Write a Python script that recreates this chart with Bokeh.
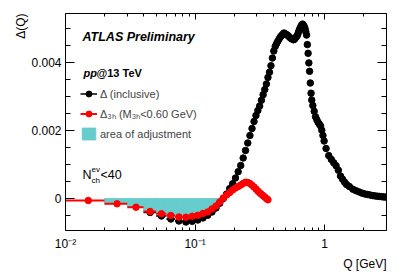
import math
from bokeh.plotting import figure
from bokeh.models import (FixedTicker, LogAxis, LinearAxis, Label, Legend,
                          LegendItem, ColumnDataSource, Range1d, Title)
from bokeh.embed import file_html
from bokeh.resources import INLINE

# ---------------- data ----------------
q_incl = [0.045, 0.055, 0.065, 0.075, 0.085, 0.095, 0.105, 0.115, 0.125, 0.135,
          0.145, 0.155, 0.165, 0.175, 0.185, 0.195, 0.205, 0.215, 0.225, 0.235,
          0.245, 0.255, 0.265, 0.275, 0.285, 0.295, 0.305, 0.315, 0.325, 0.335,
          0.345, 0.355, 0.365, 0.375, 0.385, 0.395, 0.405, 0.415, 0.425, 0.435,
          0.445, 0.455, 0.465, 0.475, 0.485, 0.495, 0.505, 0.515, 0.525, 0.535,
          0.545, 0.555, 0.565, 0.575, 0.585, 0.595, 0.605, 0.615, 0.625, 0.635,
          0.645, 0.655, 0.665, 0.675, 0.685, 0.695, 0.705, 0.715, 0.725, 0.735,
          0.745, 0.755, 0.765, 0.775, 0.785, 0.795, 0.81, 0.83, 0.85, 0.87,
          0.89, 0.91, 0.93, 0.95, 0.97, 0.99, 1.025, 1.075, 1.125, 1.175,
          1.225, 1.275, 1.325, 1.375, 1.425, 1.475, 1.55, 1.65, 1.75, 1.85,
          1.95, 2.05, 2.15, 2.25, 2.35, 2.45, 2.55, 2.65, 2.75, 2.85, 2.95]
delta_incl = [-0.000412, -0.000515, -0.000603, -0.000662, -0.000691, -0.000671, -0.000632, -0.000571, -0.000494, -0.000397,
              -0.000279, -0.000138, 0.000000, 0.000132, 0.000291, 0.000435, 0.000603, 0.000788, 0.000971, 0.001191,
              0.001412, 0.001632, 0.001853, 0.002059, 0.002265, 0.002441, 0.002588, 0.002720, 0.002891, 0.003053,
              0.003203, 0.003367, 0.003559, 0.003714, 0.003906, 0.004132, 0.004338, 0.004470, 0.004553, 0.004623,
              0.004688, 0.004750, 0.004794, 0.004829, 0.004867, 0.004847, 0.004826, 0.004808, 0.004776, 0.004750,
              0.004717, 0.004700, 0.004685, 0.004667, 0.004685, 0.004720, 0.004756, 0.004794, 0.004870, 0.004947,
              0.005008, 0.005056, 0.005106, 0.005129, 0.005094, 0.005059, 0.005003, 0.004903, 0.004806, 0.004526,
              0.004270, 0.003988, 0.003741, 0.003397, 0.003097, 0.002897, 0.002735, 0.002565, 0.002403, 0.002315,
              0.002238, 0.002185, 0.002135, 0.002009, 0.001853, 0.001691, 0.001471, 0.001262, 0.001150, 0.001050,
              0.000962, 0.000832, 0.000662, 0.000565, 0.000479, 0.000412, 0.000353, 0.000274, 0.000226, 0.000191,
              0.000156, 0.000132, 0.000118, 0.000100, 0.000085, 0.000076, 0.000068, 0.000062, 0.000053, 0.000047, 0.000041]

q_3h = [0.015, 0.025, 0.035, 0.045, 0.055, 0.065, 0.075, 0.085, 0.095, 0.105,
        0.115, 0.125, 0.135, 0.145, 0.155, 0.165, 0.175, 0.185, 0.195, 0.205,
        0.215, 0.225, 0.235, 0.245, 0.255, 0.265, 0.275, 0.285, 0.295, 0.305,
        0.315, 0.325, 0.335, 0.345, 0.355, 0.365]
delta_3h = [-0.000059, -0.000156, -0.000256, -0.000382, -0.000450, -0.000500, -0.000544, -0.000550, -0.000523, -0.000494,
            -0.000441, -0.000397, -0.000309, -0.000221, -0.000103, 0.000015, 0.000103, 0.000176, 0.000250, 0.000309,
            0.000353, 0.000397, 0.000441, 0.000479, 0.000471, 0.000441, 0.000391, 0.000338, 0.000279, 0.000221,
            0.000168, 0.000124, 0.000082, 0.000044, 0.000000, -0.000038]
bin_half_width = 0.005
adj_first, adj_last = 1, 14   # bins of delta_3h forming the area of adjustment

x_major_ticks = [0.01, 0.1, 1.0]
x_tick_labels = ["10\u207b\u00b2", "10\u207b\u00b9", "1"]
x_minor_ticks = [0.02, 0.03, 0.04, 0.05, 0.06, 0.07, 0.08, 0.09,
                 0.2, 0.3, 0.4, 0.5, 0.6, 0.7, 0.8, 0.9, 2.0, 3.0]
y_major_ticks = [0.0, 0.002, 0.004]
y_tick_labels = ["0", "0.002", "0.004"]
y_minor_ticks = [-0.0005, 0.0005, 0.001, 0.0015, 0.0025, 0.003, 0.0035, 0.0045, 0.005]

# ---------------- figure ----------------
FONT = "Liberation Sans"
CYAN = "#66cccc"
p = figure(width=399, height=276, x_axis_type="log",
           x_range=Range1d(0.01, 3.0), y_range=Range1d(-0.000941, 0.005441),
           output_backend="svg", toolbar_location=None,
           min_border_left=65, min_border_right=13, min_border_top=13, min_border_bottom=46,
           background_fill_color="white", border_fill_color="white",
           outline_line_color=None)
p.xgrid.visible = False
p.ygrid.visible = False

xt = FixedTicker(ticks=x_major_ticks, minor_ticks=x_minor_ticks)
yt = FixedTicker(ticks=y_major_ticks, minor_ticks=y_minor_ticks)

def style_axis(ax, major, minor, show_labels):
    ax.major_tick_in = major
    ax.major_tick_out = 0
    ax.minor_tick_in = minor
    ax.minor_tick_out = 0
    ax.axis_line_color = "black"
    ax.major_tick_line_color = "black"
    ax.minor_tick_line_color = "black"
    ax.axis_line_width = 1
    if show_labels:
        ax.major_label_text_font = FONT
        ax.major_label_text_font_size = "12px"
        ax.major_label_text_color = "black"
    else:
        ax.major_label_text_font_size = "1px"
        ax.major_label_text_alpha = 0
        ax.major_label_standoff = 0

xa = p.xaxis[0]
xa.ticker = xt
xa.major_label_overrides = dict(zip(x_major_ticks, x_tick_labels))
xa.major_label_standoff = 6
style_axis(xa, 6, 3, True)

ya = p.yaxis[0]
ya.ticker = yt
ya.major_label_overrides = dict(zip(y_major_ticks, y_tick_labels))
ya.major_label_standoff = 4
style_axis(ya, 9, 5, True)

top = LogAxis(ticker=xt)
style_axis(top, 6, 3, False)
p.add_layout(top, "above")
right = LinearAxis(ticker=yt)
style_axis(right, 9, 5, False)
p.add_layout(right, "right")

# axis titles (outside the frame)
p.add_layout(Title(text="\u0394(Q)", align="right", text_font=FONT, text_font_size="12px",
                   text_font_style="normal", standoff=2, text_color="black"), "left")
p.add_layout(Title(text="Q [GeV]", align="right", text_font=FONT, text_font_size="12px",
                   text_font_style="normal", standoff=2, text_color="black"), "below")

# ---------------- glyphs ----------------
adj_q = q_3h[adj_first:adj_last + 1]
adj_v = delta_3h[adj_first:adj_last + 1]
adj_src = ColumnDataSource(dict(left=[q - bin_half_width for q in adj_q],
                                right=[q + bin_half_width for q in adj_q],
                                top=[0.0] * len(adj_q), bottom=adj_v))
r_area = p.quad(left="left", right="right", top="top", bottom="bottom", source=adj_src,
                fill_color=CYAN, line_color=CYAN, line_width=0.8)

inc_src = ColumnDataSource(dict(q=q_incl, v=delta_incl,
                                lo=[q - bin_half_width for q in q_incl],
                                hi=[q + bin_half_width for q in q_incl]))
r_inc_err = p.segment(x0="lo", y0="v", x1="hi", y1="v", source=inc_src,
                      line_color="black", line_width=1.5)
r_inc = p.scatter("q", "v", source=inc_src, size=6.5, fill_color="black", line_color="black")

h3_src = ColumnDataSource(dict(q=q_3h, v=delta_3h,
                               lo=[q - bin_half_width for q in q_3h],
                               hi=[q + bin_half_width for q in q_3h]))
r_3h_err = p.segment(x0="lo", y0="v", x1="hi", y1="v", source=h3_src,
                     line_color="red", line_width=2)
r_3h = p.scatter("q", "v", source=h3_src, size=6.5, fill_color="red", line_color="red")

legend = Legend(items=[
    LegendItem(label="\u0394 (inclusive)", renderers=[r_inc_err, r_inc]),
    LegendItem(label="\u0394\u2083\u2095 (M\u2083\u2095<0.60 GeV)", renderers=[r_3h_err, r_3h]),
    LegendItem(label="area of adjustment", renderers=[r_area]),
], location=(15, 89), padding=0, spacing=5, glyph_width=17, glyph_height=15,
   label_height=15, label_standoff=3, border_line_color=None,
   background_fill_alpha=0, label_text_font=FONT, label_text_font_size="11px",
   label_text_baseline="middle")
p.add_layout(legend, "center")

# ---------------- texts inside the frame ----------------
def lab(x, y, text, size, style="normal", align="left", angle=0.0):
    p.add_layout(Label(x=x, y=y, x_units="screen", y_units="screen", text=text,
                       text_font=FONT, text_font_size=size, text_font_style=style,
                       text_align=align, text_baseline="middle", angle=angle,
                       text_color="black"))

lab(17, 194, "ATLAS Preliminary", "12.5px", "bold italic")
lab(18, 158, "pp", "11px", "bold italic")
lab(31, 158, "@13 TeV", "11px", "bold")
lab(17, 55.5, "N", "12.5px")
lab(26, 61, "ev", "8px")
lab(26, 50, "ch", "8px")
lab(35, 55.5, "<40", "12.5px")

open("out.html", "w").write(file_html(p, INLINE))
